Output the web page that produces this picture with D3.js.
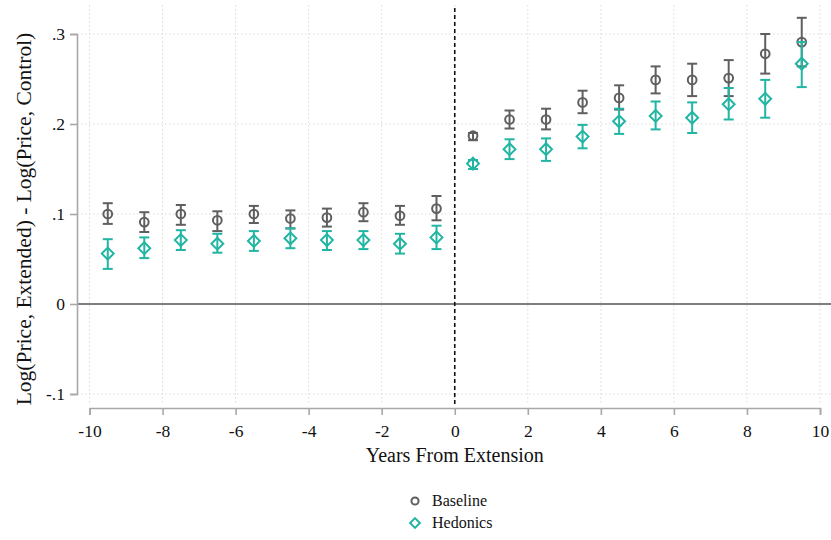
<!DOCTYPE html>
<html>
<head>
<meta charset="utf-8">
<script src="https://cdn.jsdelivr.net/npm/d3@7/dist/d3.min.js"></script>
<style>
  html, body { margin: 0; padding: 0; background: #ffffff; }
  svg { display: block; }
  text { font-family: "Liberation Serif", "Times New Roman", serif; fill: #111; }
</style>
</head>
<body>
<svg id="chart" width="831" height="540"></svg>
<script>
// ---- data ----
const years = [-9.5,-8.5,-7.5,-6.5,-5.5,-4.5,-3.5,-2.5,-1.5,-0.5,0.5,1.5,2.5,3.5,4.5,5.5,6.5,7.5,8.5,9.5];
const baselineEst = [0.100,0.091,0.100,0.093,0.100,0.095,0.096,0.102,0.098,0.106,0.187,0.205,0.205,0.224,0.229,0.249,0.249,0.251,0.278,0.291];
const baselineLo  = [0.089,0.080,0.088,0.081,0.090,0.084,0.086,0.092,0.088,0.093,0.182,0.195,0.194,0.212,0.216,0.234,0.231,0.231,0.256,0.264];
const baselineHi  = [0.112,0.102,0.110,0.103,0.109,0.104,0.106,0.112,0.109,0.120,0.190,0.215,0.217,0.237,0.243,0.264,0.267,0.271,0.300,0.318];
const hedonicsEst = [0.056,0.062,0.071,0.067,0.070,0.073,0.071,0.071,0.067,0.074,0.156,0.172,0.172,0.186,0.203,0.209,0.207,0.222,0.228,0.267];
const hedonicsLo  = [0.039,0.051,0.060,0.057,0.059,0.062,0.060,0.061,0.056,0.061,0.150,0.161,0.159,0.173,0.189,0.194,0.190,0.205,0.207,0.241];
const hedonicsHi  = [0.072,0.074,0.082,0.078,0.081,0.084,0.081,0.081,0.078,0.087,0.160,0.183,0.184,0.199,0.217,0.225,0.224,0.240,0.249,0.291];
const xTicks = [-10,-8,-6,-4,-2,0,2,4,6,8,10];
const xTickLabels = ["-10","-8","-6","-4","-2","0","2","4","6","8","10"];
const yTicks = [-0.1,0,0.1,0.2,0.3];
const yTickLabels = ["-.1","0",".1",".2",".3"];
const seriesNames = ["Baseline","Hedonics"];
const xTitle = "Years From Extension";
const yTitle = "Log(Price, Extended) - Log(Price, Control)";

// ---- layout ----
const svg = d3.select("#chart");
const grey = "#5f5f5f", teal = "#22b5a3";
const plotLeft = 77, plotRight = 831, plotTop = 5, plotBottom = 404;

const x = d3.scaleLinear().domain([-10, 10]).range([89.5, 820]);
const y = d3.scaleLinear().domain([-0.1, 0.3]).range([394, 34]);

// grid
const grid = svg.append("g");
grid.selectAll("line.gx").data(xTicks).join("line")
  .attr("x1", d => x(d)).attr("x2", d => x(d))
  .attr("y1", plotTop).attr("y2", plotBottom)
  .attr("stroke", "#d9d9d9").attr("stroke-width", 1).attr("stroke-dasharray", "1.5,2.5");
grid.selectAll("line.gy").data(yTicks.filter(d => d !== 0)).join("line")
  .attr("x1", plotLeft).attr("x2", plotRight)
  .attr("y1", d => y(d)).attr("y2", d => y(d))
  .attr("stroke", "#d9d9d9").attr("stroke-width", 1).attr("stroke-dasharray", "1.5,2.5");

// zero line
svg.append("line")
  .attr("x1", plotLeft).attr("x2", plotRight)
  .attr("y1", y(0)).attr("y2", y(0))
  .attr("stroke", "#555").attr("stroke-width", 1.6);

// dashed vertical line at 0
svg.append("line")
  .attr("x1", x(0)).attr("x2", x(0))
  .attr("y1", 8).attr("y2", plotBottom)
  .attr("stroke", "#111").attr("stroke-width", 1.6).attr("stroke-dasharray", "4,3");

// axes
const yAxis = svg.append("g").attr("transform", `translate(${plotLeft},0)`)
  .call(d3.axisLeft(y).tickValues(yTicks).tickSizeOuter(0).tickSize(7).tickPadding(5)
    .tickFormat((d, i) => yTickLabels[i]));
const xAxis = svg.append("g").attr("transform", `translate(0,408)`)
  .call(d3.axisBottom(x).tickValues(xTicks).tickSizeOuter(0).tickSize(7).tickPadding(10)
    .tickFormat((d, i) => xTickLabels[i]));
[yAxis, xAxis].forEach(a => {
  a.select(".domain").attr("stroke", "#a8a8a8").attr("stroke-width", 1.6);
  a.selectAll(".tick line").attr("stroke", "#a8a8a8").attr("stroke-width", 1.6);
  a.selectAll(".tick text").attr("font-family", "Liberation Serif, serif").attr("font-size", 17.5).attr("fill", "#111");
});

// axis titles
svg.append("text").attr("x", x(0)).attr("y", 462).attr("text-anchor", "middle")
  .attr("font-size", 20).text(xTitle);
svg.append("text").attr("transform", `translate(31,219) rotate(-90)`)
  .attr("text-anchor", "middle").attr("font-size", 21.5).text(yTitle);

// series
function drawSeries(est, lo, hi, color, shape) {
  const g = svg.append("g");
  const data = years.map((t, i) => ({t, e: est[i], lo: lo[i], hi: hi[i]}));
  g.selectAll("line.bar").data(data).join("line")
    .attr("x1", d => x(d.t)).attr("x2", d => x(d.t))
    .attr("y1", d => y(d.lo)).attr("y2", d => y(d.hi))
    .attr("stroke", color).attr("stroke-width", 2);
  ["lo", "hi"].forEach(k => {
    g.selectAll("line.cap" + k).data(data).join("line")
      .attr("x1", d => x(d.t) - 5).attr("x2", d => x(d.t) + 5)
      .attr("y1", d => y(d[k])).attr("y2", d => y(d[k]))
      .attr("stroke", color).attr("stroke-width", 2);
  });
  const sym = d3.symbol().type(shape === "circle" ? d3.symbolCircle : d3.symbolDiamond2)
    .size(shape === "circle" ? 60 : 90);
  g.selectAll("path.m").data(data).join("path")
    .attr("d", sym)
    .attr("transform", d => `translate(${x(d.t)},${y(d.e)})`)
    .attr("fill", "none").attr("stroke", color).attr("stroke-width", 2);
}
drawSeries(baselineEst, baselineLo, baselineHi, grey, "circle");
drawSeries(hedonicsEst, hedonicsLo, hedonicsHi, teal, "diamond");

// legend
const legend = svg.append("g");
const legendColors = [grey, teal];
const legendShapes = [d3.symbolCircle, d3.symbolDiamond2];
seriesNames.forEach((name, i) => {
  const ly = 501 + i * 22;
  legend.append("path")
    .attr("d", d3.symbol().type(legendShapes[i]).size(i === 0 ? 40 : 60))
    .attr("transform", `translate(415,${ly})`)
    .attr("fill", "none").attr("stroke", legendColors[i]).attr("stroke-width", 2);
  legend.append("text").attr("x", 432).attr("y", ly + 5).attr("font-size", 16).text(name);
});
</script>
</body>
</html>
